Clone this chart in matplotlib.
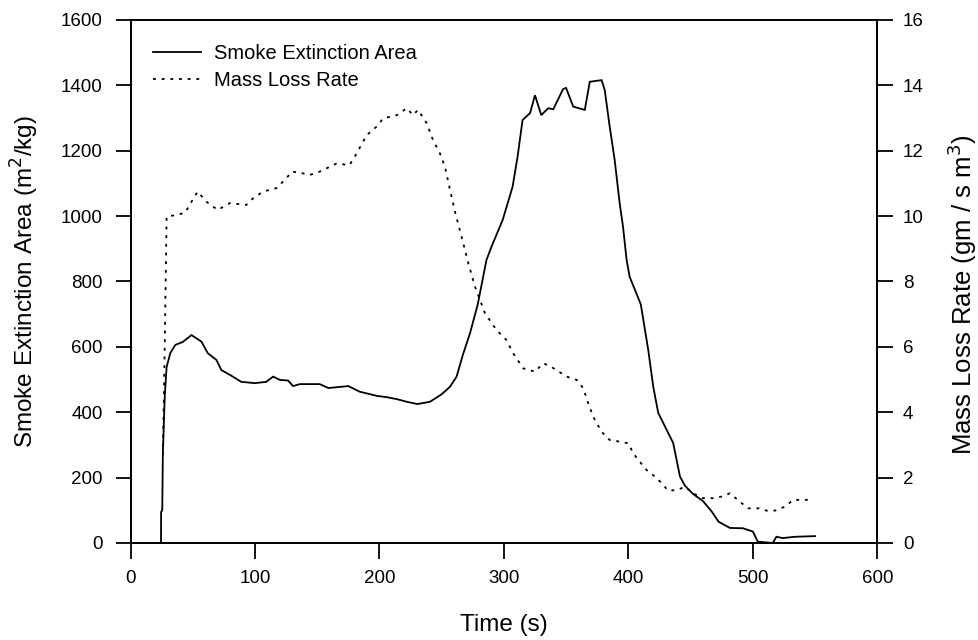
import matplotlib
matplotlib.use("Agg")
import matplotlib.pyplot as plt
from matplotlib.lines import Line2D

plt.rcParams['font.family'] = ['Liberation Sans', 'DejaVu Sans']

# Smoke Extinction Area (m^2/kg), left axis
sea_t = [24.5, 24.6, 25.5, 26, 27.5, 29, 32, 36, 42, 49, 57, 62, 69, 73, 80, 89, 100,
         109, 114.6, 120, 126.6, 130.6, 136, 152, 159, 167, 175, 184, 198, 206, 214,
         222, 230.5, 240.6, 250, 256.7, 262, 267, 272.8, 279, 286, 290, 299, 307, 311,
         315, 321, 325, 330, 335.6, 339.7, 347.6, 350, 355.7, 365, 369, 378.5, 381,
         385, 389, 393, 395.7, 398.6, 401, 410, 416, 420, 424, 430.8, 436, 441.5,
         445.5, 452, 460, 467, 472.5, 481.6, 492, 500, 504, 516, 519, 524, 534, 550]
sea_v = [0, 95, 100, 275, 447, 538, 581, 606, 615, 636, 616, 581, 560, 529, 514, 493, 489,
         493, 509, 499, 497, 480, 486, 486, 474, 477, 480, 463, 450, 446, 440,
         432, 425, 432, 455, 478, 509, 575, 642, 730, 866, 906, 988, 1090, 1182,
         1294, 1315, 1370, 1309, 1330, 1327, 1389, 1392, 1335, 1325, 1411, 1416, 1386,
         1274, 1172, 1040, 968, 866, 815, 730, 590, 478, 398, 346, 306, 203,
         175, 150, 128, 96, 65, 46, 45, 35, 4, 0, 19, 15, 19, 21]

# Mass Loss Rate (gm / s m^3), right axis
mlr_t = [26, 27.5, 29, 35.8, 43.8, 49, 54, 61, 70, 80, 93, 98.6, 106.5, 117.5, 125.5,
         129.5, 136, 144, 152, 165.6, 176, 181.7, 189.8, 197.8, 203, 214, 222, 227,
         231, 238, 243, 248.6, 252.7, 256.7, 261, 266, 271.4, 276.8, 284.8, 294, 302,
         307.5, 315.6, 325, 331.6, 338, 350.4, 358.5, 363.8, 367.8, 371.8, 378.5, 385,
         393, 400, 404, 408, 414.7, 421.4, 426.8, 432, 439, 445.5, 452, 460, 468, 475,
         481.6, 489.7, 496.3, 504.4, 511, 517.8, 525.8, 532.5, 540.5, 548.6]
mlr_v = [2.7, 6.0, 9.98, 10.03, 10.1, 10.44, 10.75, 10.44, 10.19, 10.4, 10.34, 10.55,
         10.75, 10.86, 11.17, 11.36, 11.33, 11.26, 11.36, 11.61, 11.56, 11.92, 12.48,
         12.74, 12.99, 13.09, 13.3, 13.09, 13.25, 12.84, 12.33, 11.92, 11.51, 10.8,
         10.09, 9.37, 8.56, 7.84, 7.03, 6.52, 6.21, 5.80, 5.34, 5.24, 5.50, 5.39, 5.09,
         4.99, 4.73, 4.27, 3.86, 3.40, 3.15, 3.10, 3.05, 2.74, 2.54, 2.23, 2.03, 1.83,
         1.60, 1.62, 1.72, 1.52, 1.37, 1.37, 1.42, 1.52, 1.26, 1.06, 1.06, 0.99, 0.99,
         1.11, 1.32, 1.32, 1.32]

x_ticks = [0, 100, 200, 300, 400, 500, 600]
left_ticks = [0, 200, 400, 600, 800, 1000, 1200, 1400, 1600]
right_ticks = [0, 2, 4, 6, 8, 10, 12, 14, 16]

fig = plt.figure(figsize=(9.79, 6.40), dpi=100)
ax = fig.add_axes([0.1333, 0.1516, 0.8961 - 0.1333, 0.96875 - 0.1516])
ax2 = ax.twinx()

dot_style = (0, (1.6, 3.2))
ax.plot(sea_t, sea_v, color='black', lw=1.3, solid_joinstyle='miter')
ax2.plot(mlr_t, mlr_v, color='black', lw=1.3, linestyle=dot_style)

ax.set_xlim(0, 600)
ax.set_ylim(0, 1600)
ax2.set_ylim(0, 16)
ax.set_xticks(x_ticks)
ax.set_yticks(left_ticks)
ax2.set_yticks(right_ticks)

for a in (ax, ax2):
    for s in a.spines.values():
        s.set_linewidth(1.3)
ax.tick_params(axis='x', direction='out', length=11.5, width=1.3, pad=8, labelsize=13.5)
ax.tick_params(axis='y', direction='out', length=11, width=1.3, pad=9, labelsize=13.5)
ax2.tick_params(axis='y', direction='out', length=11.5, width=1.3, pad=7, labelsize=13.5)

ax.set_xlabel('Time (s)', fontsize=17.5, va='center')
ax.xaxis.set_label_coords(0.5, -0.157)
ax.set_ylabel('Smoke Extinction Area (m$^2$/kg)', fontsize=17.5, va='center')
ax.yaxis.set_label_coords(-0.141, 0.5)
ax2.set_ylabel('Mass Loss Rate (gm / s m$^3$)', fontsize=18.5, va='center')
ax2.yaxis.set_label_coords(1.114, 0.475)

handles = [Line2D([], [], color='black', lw=1.3),
           Line2D([], [], color='black', lw=1.3, linestyle=dot_style)]
ax.legend(handles, ['Smoke Extinction Area', 'Mass Loss Rate'], loc='upper left',
          bbox_to_anchor=(0.030, 0.954), frameon=False, fontsize=14.5,
          handlelength=2.4, handletextpad=0.65, borderaxespad=0, borderpad=0,
          labelspacing=0.4)

fig.savefig('out.png', dpi=100)
